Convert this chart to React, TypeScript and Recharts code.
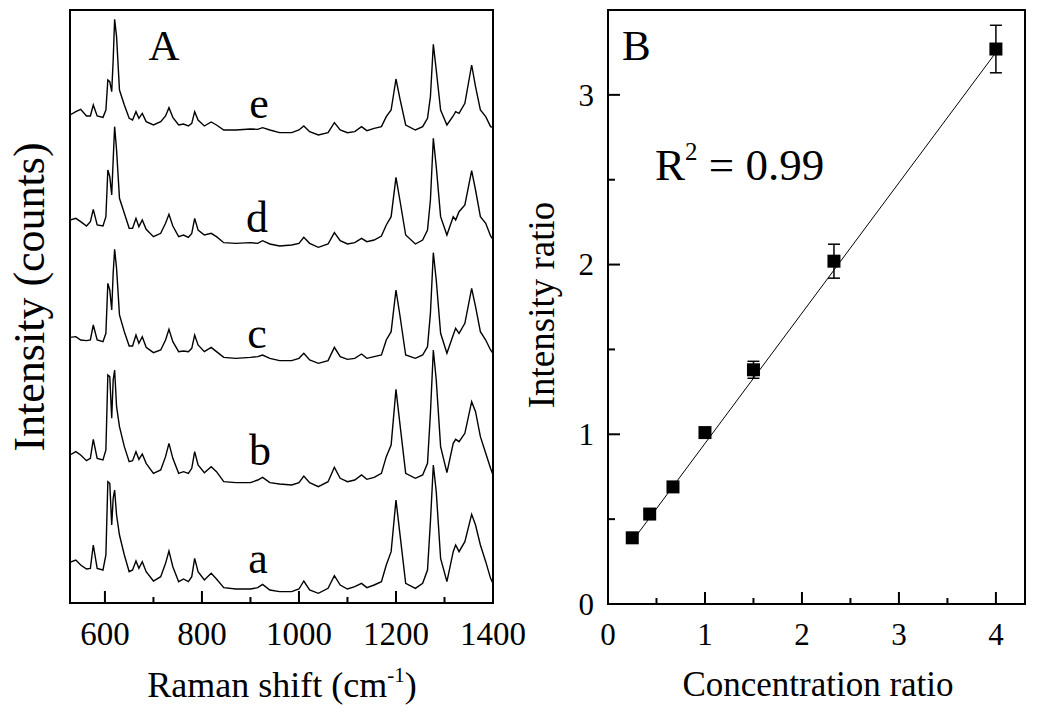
import React from 'react';
import { ComposedChart, Line, XAxis, YAxis, Scatter, ErrorBar, ReferenceArea } from 'recharts';

const FONT = '"Liberation Serif", "Times New Roman", Times, serif';

// ---------- Panel A : Raman spectra ----------
const ramanShift = [528, 540, 550, 562, 570, 576, 584, 596, 602, 606, 610, 614, 617, 620, 624, 630, 640, 650, 657, 664, 670, 677, 685, 700, 715, 725, 732, 740, 752, 762, 772, 779, 785, 792, 805, 819, 830, 845, 870, 900, 915, 925, 940, 960, 985, 1000, 1010, 1022, 1040, 1060, 1073, 1085, 1100, 1115, 1129, 1140, 1155, 1170, 1180, 1190, 1200, 1208, 1220, 1240, 1255, 1265, 1271, 1277, 1283, 1292, 1305, 1318, 1323, 1330, 1342, 1356, 1364, 1374, 1385, 1395, 1400];

const traceA = [118, 125, 110, 98, 100, 170, 100, 95, 140, 360, 355, 230, 310, 335, 260, 200, 140, 90, 95, 122, 100, 120, 90, 62, 75, 115, 152, 105, 60, 68, 60, 75, 130, 90, 65, 85, 68, 42, 38, 38, 42, 52, 35, 30, 30, 38, 62, 35, 25, 40, 78, 50, 38, 45, 55, 42, 50, 60, 110, 150, 305, 205, 55, 40, 55, 95, 240, 410, 330, 130, 60, 150, 170, 150, 180, 262, 230, 170, 120, 70, 55];
const traceB = [95, 105, 95, 78, 85, 142, 85, 80, 110, 335, 330, 205, 320, 350, 240, 180, 120, 75, 78, 105, 82, 98, 70, 40, 50, 90, 130, 85, 40, 45, 40, 55, 105, 65, 42, 60, 45, 15, 12, 12, 20, 28, 12, 8, 5, 12, 32, 12, 0, 15, 58, 25, 15, 20, 35, 22, 28, 40, 90, 125, 292, 190, 40, 25, 35, 70, 220, 410, 320, 120, 42, 130, 142, 135, 160, 255, 225, 150, 100, 55, 35];
const traceC = [148, 150, 140, 138, 140, 185, 140, 135, 160, 310, 290, 230, 340, 412, 355, 215, 165, 122, 122, 155, 130, 150, 118, 102, 110, 140, 172, 135, 105, 107, 105, 115, 155, 125, 105, 118, 105, 88, 85, 88, 90, 95, 85, 78, 78, 85, 100, 80, 70, 78, 118, 90, 82, 85, 98, 85, 90, 95, 140, 165, 290, 215, 95, 85, 95, 120, 220, 402, 320, 160, 100, 155, 175, 160, 190, 295, 240, 165, 140, 110, 100];
const traceD = [140, 145, 135, 122, 135, 172, 125, 122, 150, 290, 270, 215, 320, 420, 350, 205, 160, 115, 115, 145, 120, 140, 112, 90, 100, 130, 157, 122, 90, 95, 88, 100, 145, 110, 95, 100, 90, 72, 70, 72, 70, 78, 68, 62, 65, 70, 88, 70, 58, 68, 102, 78, 68, 72, 85, 75, 80, 92, 125, 150, 268, 200, 95, 68, 80, 110, 200, 385, 300, 150, 95, 150, 140, 165, 185, 288, 230, 150, 130, 92, 82];
const traceE = [125, 135, 142, 122, 122, 155, 122, 118, 140, 230, 225, 195, 290, 412, 360, 200, 155, 115, 110, 135, 115, 130, 105, 95, 105, 122, 147, 118, 95, 98, 92, 100, 135, 110, 92, 104, 95, 80, 80, 83, 82, 87, 80, 72, 72, 80, 92, 75, 65, 72, 102, 80, 72, 75, 90, 78, 85, 90, 120, 140, 233, 175, 95, 80, 90, 115, 180, 337, 260, 140, 95, 122, 135, 130, 160, 275, 210, 140, 120, 90, 88];

const traceIds = ['a', 'b', 'c', 'd', 'e'];
const traceOffsets = [4, 349, 649, 1009, 1339];
const spectra = [traceA, traceB, traceC, traceD, traceE];

const ramanMajorTicks = [600, 800, 1000, 1200, 1400];
const ramanMinorTicks = [700, 900, 1100, 1300];
const ramanDomain = [528, 1400];
const countsDomain = [0, 1779];

const spectrumRows = ramanShift.map((x, i) => {
  const row: Record<string, number> = { x };
  traceIds.forEach((id, k) => {
    row[id] = spectra[k][i] + traceOffsets[k];
  });
  return row;
});

// ---------- Panel B : calibration ----------
const concRatio = [0.25, 0.43, 0.67, 1.0, 1.5, 2.33, 4.0];
const intensityRatio = [0.39, 0.53, 0.69, 1.01, 1.38, 2.02, 3.27];
const intensityErr = [0.02, 0.02, 0.02, 0.02, 0.05, 0.1, 0.14];
const fitX = [0.25, 4.0];
const fitY = [0.37, 3.25];

const concMajorTicks = [0, 1, 2, 3, 4];
const concMinorTicks = [0.5, 1.5, 2.5, 3.5];
const ratioMajorTicks = [0, 1, 2, 3];
const ratioMinorTicks = [0.5, 1.5, 2.5];

const pointRows = concRatio.map((x, i) => ({ x, y: intensityRatio[i], err: intensityErr[i] }));
const fitRows = fitX.map((x, i) => ({ x, y: fitY[i] }));

const sortNum = (a: number, b: number) => a - b;
const serif = { fontFamily: FONT };

function BottomTick(props: any) {
  const { x, y, payload, majors, fontSize, labelDy } = props;
  const v = payload.value;
  const major = majors.includes(v);
  return (
    <g>
      <line x1={x} x2={x} y1={y} y2={y - (major ? 12 : 6)} stroke="#000" strokeWidth={2} />
      {major && (
        <text x={x} y={y + labelDy} textAnchor="middle" style={serif} fontSize={fontSize} fill="#000">
          {String(v)}
        </text>
      )}
    </g>
  );
}

function LeftTick(props: any) {
  const { x, y, payload, majors, fontSize } = props;
  const v = payload.value;
  const major = majors.includes(v);
  return (
    <g>
      <line x1={x} x2={x + (major ? 12 : 7)} y1={y} y2={y} stroke="#000" strokeWidth={2} />
      {major && (
        <text x={x - 14} y={y} dy="0.35em" textAnchor="end" style={serif} fontSize={fontSize} fill="#000">
          {String(v)}
        </text>
      )}
    </g>
  );
}

function SquareDot(props: any) {
  const { cx, cy } = props;
  if (cx == null || cy == null) return <g />;
  return <rect x={cx - 6.5} y={cy - 6.5} width={13} height={13} fill="#000" />;
}

export default function App() {
  return (
    <div style={{ position: 'absolute', left: 0, top: 0, width: 1050, height: 715, background: '#fff' }}>
      <div style={{ position: 'absolute', left: 0, top: 0 }}>
        <ComposedChart width={545} height={715} data={spectrumRows} margin={{ top: 10, right: 52, bottom: 111, left: 69 }}>
          <XAxis
            dataKey="x"
            type="number"
            domain={ramanDomain}
            allowDataOverflow
            ticks={[...ramanMajorTicks, ...ramanMinorTicks].sort(sortNum)}
            interval={0}
            height={1}
            tickSize={0}
            tickMargin={0}
            axisLine={{ stroke: '#000', strokeWidth: 2 }}
            tickLine={false}
            tick={(p: any) => <BottomTick {...p} majors={ramanMajorTicks} fontSize={33} labelDy={42} />}
          />
          <YAxis
            type="number"
            domain={countsDomain}
            allowDataOverflow
            width={1}
            tick={false}
            tickLine={false}
            axisLine={{ stroke: '#000', strokeWidth: 2 }}
          />
          <ReferenceArea x1={ramanDomain[0]} x2={ramanDomain[1]} y1={countsDomain[0]} y2={countsDomain[1]} fill="none" stroke="#000" strokeWidth={2} fillOpacity={0} />
          {traceIds.map((id) => (
            <Line key={id} dataKey={id} type="linear" stroke="#000" strokeWidth={1.4} dot={false} isAnimationActive={false} />
          ))}
        </ComposedChart>
      </div>

      <div style={{ position: 'absolute', left: 520, top: 0 }}>
        <ComposedChart width={530} height={715} margin={{ top: 10, right: 25, bottom: 110, left: 87 }}>
          <XAxis
            dataKey="x"
            type="number"
            domain={[0, 4.3]}
            allowDataOverflow
            ticks={[...concMajorTicks, ...concMinorTicks].sort(sortNum)}
            interval={0}
            height={1}
            tickSize={0}
            tickMargin={0}
            axisLine={{ stroke: '#000', strokeWidth: 2 }}
            tickLine={false}
            tick={(p: any) => <BottomTick {...p} majors={concMajorTicks} fontSize={31} labelDy={41} />}
          />
          <YAxis
            dataKey="y"
            type="number"
            domain={[0, 3.5]}
            allowDataOverflow
            ticks={[...ratioMajorTicks, ...ratioMinorTicks].sort(sortNum)}
            interval={0}
            width={1}
            tickSize={0}
            tickMargin={0}
            axisLine={{ stroke: '#000', strokeWidth: 2 }}
            tickLine={false}
            tick={(p: any) => <LeftTick {...p} majors={ratioMajorTicks} fontSize={31} />}
          />
          <ReferenceArea x1={0} x2={4.3} y1={0} y2={3.5} fill="none" stroke="#000" strokeWidth={2} fillOpacity={0} />
          <Scatter
            data={fitRows}
            dataKey="y"
            line={{ stroke: '#000', strokeWidth: 1 }}
            shape={() => <g />}
            isAnimationActive={false}
            legendType="none"
          />
          <Scatter data={pointRows} dataKey="y" shape={SquareDot} isAnimationActive={false}>
            <ErrorBar dataKey="err" direction="y" width={6} stroke="#000" strokeWidth={1.5} isAnimationActive={false} />
          </Scatter>
        </ComposedChart>
      </div>

      <svg width={1050} height={715} style={{ position: 'absolute', left: 0, top: 0, pointerEvents: 'none' }}>
        <g fill="#000">
          <text x={164} y={60} fontSize={43} textAnchor="middle" style={serif}>A</text>
          <text x={259} y={118} fontSize={44} textAnchor="middle" style={serif}>e</text>
          <text x={257} y={232} fontSize={44} textAnchor="middle" style={serif}>d</text>
          <text x={257} y={348} fontSize={44} textAnchor="middle" style={serif}>c</text>
          <text x={260} y={465} fontSize={44} textAnchor="middle" style={serif}>b</text>
          <text x={258} y={573} fontSize={44} textAnchor="middle" style={serif}>a</text>
          <text x={282} y={697} fontSize={36} textAnchor="middle" style={serif}>
            Raman shift (cm<tspan fontSize={21} dy={-15}>-1</tspan><tspan dy={15}>)</tspan>
          </text>
          <text x={29} y={297} fontSize={44} textAnchor="middle" dominantBaseline="central" transform="rotate(-90, 29, 297)" style={serif}>
            Intensity (counts)
          </text>

          <text x={622} y={60} fontSize={43} style={serif}>B</text>
          <text x={655} y={180} fontSize={45} style={serif}>
            R<tspan fontSize={25} dy={-20}>2</tspan><tspan dy={20}> = 0.99</tspan>
          </text>
          <text x={818} y={696} fontSize={35} textAnchor="middle" style={serif}>Concentration ratio</text>
          <text x={541} y={305} fontSize={37} textAnchor="middle" dominantBaseline="central" transform="rotate(-90, 541, 305)" style={serif}>
            Intensity ratio
          </text>
        </g>
      </svg>
    </div>
  );
}
